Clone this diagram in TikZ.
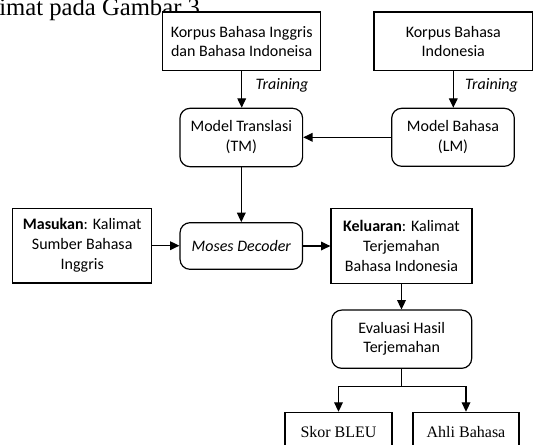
\documentclass[tikz,border=0pt]{standalone}
\usepackage{fontspec}
\setmainfont{Carlito}
\newfontfamily\timesf{Liberation Serif}
\usetikzlibrary{arrows.meta}
\begin{document}
\begin{tikzpicture}[x=0.75pt,y=-0.75pt,
  every node/.style={font=\fontsize{12}{15}\selectfont, align=center, inner sep=0pt},
  sq/.style={draw, line width=0.9pt, fill=white},
  rnd/.style={draw, line width=0.9pt, rounded corners=7.5pt, fill=white},
  arr/.style={line width=0.9pt, -{Triangle[length=7pt,width=6.5pt]}},
  ln/.style={line width=0.9pt},
  lbl/.style={font=\fontsize{12}{15}\selectfont\itshape},
  serif/.style={font=\timesf\fontsize{12}{14}\selectfont}]
\useasboundingbox (0,0) rectangle (534,444);
\clip (0,0) rectangle (534,444);
\fill[white] (0,0) rectangle (534,444);

\node[font=\timesf\fontsize{18.5}{20}\selectfont, anchor=base west] (cap) at (-1,15) {imat pada Gambar 3.};

\node[sq, minimum width=118.5pt, minimum height=44pt, font=\fontsize{12}{13.8}\selectfont] (k1) at (241.7,41.3) {Korpus Bahasa Inggris\\dan Bahasa Indoneisa};
\node[sq, minimum width=119pt, minimum height=44pt, font=\fontsize{12}{13.8}\selectfont] (k2) at (453.3,41.3) {Korpus Bahasa\\Indonesia};

\node[rnd, minimum width=92pt, minimum height=43.8pt] (tm) at (241.3,137.5) {Model Translasi\\(TM)};
\node[rnd, minimum width=92pt, minimum height=43.5pt] (lm) at (453,137.3) {Model Bahasa\\(LM)};

\node[rnd, minimum width=91.9pt, minimum height=35pt] (moses) at (241.3,246) {\itshape Moses Decoder};
\node[sq, minimum width=104.3pt, minimum height=56pt] (mas) at (82.2,245.7) {\textbf{Masukan}: Kalimat\\Sumber Bahasa\\Inggris};
\node[sq, minimum width=105.8pt, minimum height=56.3pt] (kel) at (401.5,245.8) {\textbf{Keluaran}: Kalimat\\Terjemahan\\Bahasa Indonesia};

\node[rnd, minimum width=105pt, minimum height=43.7pt, font=\fontsize{12}{14.3}\selectfont] (eva) at (401.7,339.2) {Evaluasi Hasil\\Terjemahan};

\node[sq, serif, minimum width=80.3pt, minimum height=30pt] (skor) at (338.5,432.3) {Skor BLEU};
\node[sq, serif, minimum width=79.5pt, minimum height=30pt] (ahli) at (466,432.3) {Ahli Bahasa};

\node[lbl] (t1) at (282,85) {Training};
\node[lbl] (t2) at (491.5,85) {Training};

\draw[arr] (k1.south) -- (k1.south |- tm.north);
\draw[arr] (k2.south) -- (k2.south |- lm.north);
\draw[arr] (lm.west) -- (lm.west -| tm.east);
\draw[arr] (tm.south) -- (tm.south |- moses.north);
\draw[arr] (mas.east) -- (mas.east -| moses.west);
\draw[arr] (moses.east) -- (moses.east -| kel.west);
\draw[arr] (kel.south) -- (kel.south |- eva.north);
\coordinate (j) at (401.7,386.7);
\draw[ln] (eva.south) -- (eva.south |- j);
\draw[arr] (eva.south |- j) -| (skor.north);
\draw[arr] (eva.south |- j) -| (ahli.north);
\end{tikzpicture}
\end{document}
